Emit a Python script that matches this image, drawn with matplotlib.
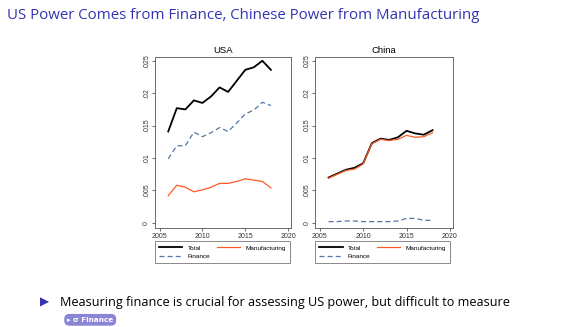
import matplotlib
matplotlib.use("Agg")
import matplotlib.pyplot as plt

years = list(range(2006, 2019))

usa_total = [.0141, .0177, .0175, .0189, .0185, .0195, .0209, .0202, .0219, .0236, .0240, .0250, .0236]
usa_finance = [.0099, .0119, .0119, .0140, .0133, .0139, .0147, .0141, .0154, .0168, .0174, .0186, .0181]
usa_manuf = [.0042, .0058, .0055, .0048, .0051, .0055, .0061, .0061, .0064, .0068, .0066, .0064, .0054]

chn_total = [.0070, .0076, .0082, .0085, .0092, .0123, .0130, .0128, .0132, .0142, .0138, .0136, .0143]
chn_finance = [.0002, .0002, .0003, .0003, .0002, .0002, .0002, .0002, .0003, .0007, .0007, .0004, .0004]
chn_manuf = [.0069, .0075, .0081, .0083, .0091, .0122, .0129, .0127, .0129, .0135, .0132, .0133, .0139]

yticks = [0, .005, .01, .015, .02, .025]
ytick_labels = ["0", ".005", ".01", ".015", ".02", ".025"]
xticks = [2005, 2010, 2015, 2020]

c_total = "black"
c_manuf = "#ff5a24"
c_fin = "#5677a0"
c_title = "#3333b2"

plt.rcParams["font.family"] = ["Liberation Sans", "DejaVu Sans"]
fig = plt.figure(figsize=(5.74, 3.27), dpi=100)

fig.text(0.012, 0.952, "US Power Comes from Finance, Chinese Power from Manufacturing",
         color=c_title, fontsize=10.8, va="center", ha="left", family="Open Sans")


def panel(rect, name, total, manuf, fin):
    ax = fig.add_axes(rect)
    l1, = ax.plot(years, total, color=c_total, lw=1.3)
    l2, = ax.plot(years, manuf, color=c_manuf, lw=0.9)
    l3, = ax.plot(years, fin, color=c_fin, lw=0.9, ls=(0, (4, 2.5)))
    ax.set_xlim(2004.45, 2020.35)
    ax.set_ylim(-0.00077, 0.0256)
    ax.set_xticks(xticks)
    ax.set_yticks(yticks)
    ax.set_yticklabels(ytick_labels, rotation=90, va="center")
    ax.tick_params(labelsize=5, length=2, width=0.5, pad=1.5, colors="#333333")
    for s in ax.spines.values():
        s.set_linewidth(0.6)
        s.set_color("#555555")
    ax.set_title(name, fontsize=6.8, pad=2.5)
    leg = ax.legend([l1, l3, l2], ["Total", "Finance", "Manufacturing"], ncol=2,
                    loc="upper left", bbox_to_anchor=(0.0, -0.078),
                    fontsize=4.6, frameon=True, fancybox=False, edgecolor="#555555",
                    handlelength=3.7, columnspacing=1.0, handletextpad=0.8,
                    borderpad=0.6, labelspacing=0.45, borderaxespad=0)
    leg.get_frame().set_linewidth(0.6)
    return ax


panel([0.270, 0.303, 0.237, 0.523], "USA", usa_total, usa_manuf, usa_finance)
panel([0.549, 0.303, 0.240, 0.523], "China", chn_total, chn_manuf, chn_finance)

fig.text(0.070, 0.075, "\u25b6", color=c_title, fontsize=8.5, va="center", ha="left",
         family="DejaVu Sans")
fig.text(0.105, 0.075, "Measuring finance is crucial for assessing US power, but difficult to measure",
         color="black", fontsize=9.1, va="center", ha="left", family="Open Sans")
fig.text(0.117, 0.022, "\u25b8 \u03c3 Finance", color="white", fontsize=5.2, fontweight="bold",
         va="center", ha="left", family="DejaVu Sans",
         bbox=dict(boxstyle="round,pad=0.4,rounding_size=0.7", fc="#8a86d6", ec="none"))

fig.savefig("out.png", dpi=100)
